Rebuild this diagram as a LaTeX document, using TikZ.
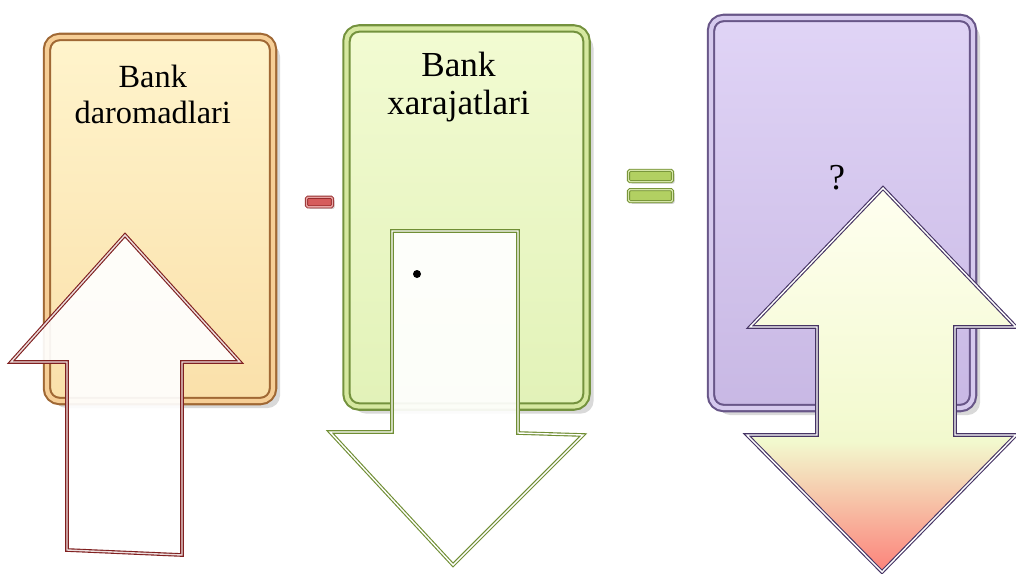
\documentclass[tikz,border=0pt]{standalone}
\usepackage{fontspec}
\setmainfont{Liberation Serif}
\usetikzlibrary{positioning, shadows}

\definecolor{incEdge}{RGB}{160,104,52}
\definecolor{incRim}{RGB}{246,206,150}
\definecolor{incTop}{RGB}{255,244,204}
\definecolor{incBot}{RGB}{250,224,170}
\definecolor{expEdge}{RGB}{116,146,62}
\definecolor{expRim}{RGB}{214,232,160}
\definecolor{expTop}{RGB}{242,251,210}
\definecolor{expBot}{RGB}{226,242,184}
\definecolor{resEdge}{RGB}{104,86,136}
\definecolor{resRim}{RGB}{214,202,238}
\definecolor{resTop}{RGB}{224,212,246}
\definecolor{resBot}{RGB}{200,184,228}
\definecolor{incArrow}{RGB}{128,32,32}
\definecolor{expArrow}{RGB}{112,142,52}
\definecolor{resArrow}{RGB}{70,52,100}
\definecolor{minusRed}{RGB}{214,92,92}
\definecolor{minusEdge}{RGB}{150,44,44}
\definecolor{eqGreen}{RGB}{178,208,98}
\definecolor{eqEdge}{RGB}{110,140,44}
\definecolor{resTip}{RGB}{255,255,240}
\definecolor{resMid}{RGB}{242,249,206}
\definecolor{resLow}{RGB}{252,130,122}

\pgfdeclareverticalshading{resshade}{100bp}{color(0bp)=(resLow); color(25bp)=(resLow);
  color(42bp)=(resMid); color(75bp)=(resTip); color(100bp)=(resTip)}

\begin{document}
\begin{tikzpicture}[x=0.025cm, y=-0.025cm,
  panel/.style={rounded corners=9pt, line width=1.5pt, double distance=3pt,
                drop shadow={shadow xshift=5pt, shadow yshift=-5pt, opacity=0.3}},
  incpanel/.style={panel, draw=incEdge, double=incRim, top color=incTop, bottom color=incBot,
                   minimum width=5.65cm, minimum height=9.1cm},
  exppanel/.style={panel, draw=expEdge, double=expRim, top color=expTop, bottom color=expBot,
                   minimum width=6.0cm, minimum height=9.45cm},
  respanel/.style={panel, draw=resEdge, double=resRim, top color=resTop, bottom color=resBot,
                   minimum width=6.55cm, minimum height=9.75cm},
  lbl/.style={align=center, inner sep=0pt},
  opbar/.style={rounded corners=1pt, line width=0.6pt, double distance=1pt, inner sep=0pt,
                drop shadow={shadow xshift=1.5pt, shadow yshift=-1.5pt, opacity=0.35}},
  blk/.style={line width=0.8pt, double distance=1pt, line join=miter},
]
  \useasboundingbox (0,0) rectangle (1016,573);

  % the three panels
  \node[incpanel] (inc) at (160,219)   {};
  \node[exppanel] (exp) at (466.5,217.5) {};
  \node[respanel] (res) at (842,213)   {};

  \node[lbl, font=\fontsize{23}{25.5}\selectfont, below=0.72cm of inc.north, xshift=-0.18cm] (inctxt)
       {Bank\\daromadlari};
  \node[lbl, font=\fontsize{25}{27}\selectfont, below=0.62cm of exp.north, xshift=-0.2cm] (exptxt)
       {Bank\\xarajatlari};
  \node[lbl, font=\fontsize{26}{30}\selectfont] (restxt) at (837,178) {?};

  % operators
  \node[opbar, draw=minusEdge, double=minusRed!55!white, fill=minusRed,
        minimum width=0.65cm, minimum height=0.24cm] (minus) at (319.5,202) {};
  \node[opbar, draw=eqEdge, double=eqGreen!55!white, fill=eqGreen,
        minimum width=1.1cm, minimum height=0.28cm] (eqa) at (650.5,176) {};
  \node[opbar, draw=eqEdge, double=eqGreen!55!white, fill=eqGreen,
        minimum width=1.1cm, minimum height=0.3cm, below=0.18cm of eqa] (eqb) {};

  % block arrows
  \draw[blk, draw=incArrow, double=incArrow!15!white, fill=white, fill opacity=0.92]
    (125,235) -- (240,362) -- (182,362) -- (182,555) -- (67,550) -- (67,362) -- (11,362) -- cycle;
  \draw[blk, draw=expArrow, double=white, fill=white, fill opacity=0.92]
    (392,231) -- (518,231) -- (518,433) -- (583,435) -- (453,565) -- (330,432) -- (392,432) -- cycle;
  \draw[blk, draw=resArrow, double=white, shading=resshade]
    (883,188) -- (1016,327) -- (955,327) -- (955,435) -- (1016,435) -- (882,572)
    -- (747,435) -- (817,435) -- (817,327) -- (750,327) -- cycle;

  \fill (417,274) circle (4);
\end{tikzpicture}
\end{document}
